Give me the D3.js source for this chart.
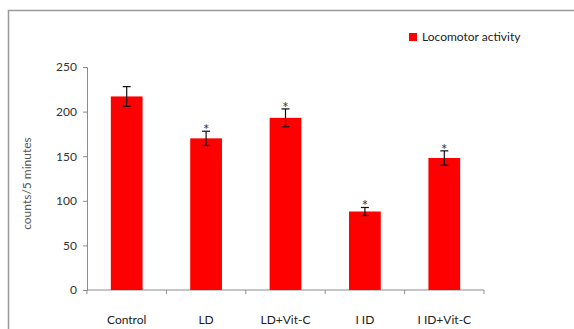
<!DOCTYPE html>
<html>
<head>
<meta charset="utf-8">
<script src="https://cdn.jsdelivr.net/npm/d3@7"></script>
<style>
  html, body { margin: 0; padding: 0; background: #fff; }
  svg { display: block; }
  text { font-family: Lato, "Open Sans", sans-serif; }
</style>
</head>
<body>
<svg id="chart" width="574" height="329"></svg>
<script>
// Locomotor activity per group (counts / 5 minutes), mean ± error
const groups = ["Control", "LD", "LD+Vit-C", "HD", "HD+Vit-C"];
const groupLabels = ["Control", "LD", "LD+Vit-C", "I ID", "I ID+Vit-C"];
const activity = [217, 170, 193, 88, 148];
const errors = [11, 8, 10, 4.5, 8];
const significant = [false, true, true, true, true];
const yTicks = [0, 50, 100, 150, 200, 250];
const seriesName = "Locomotor activity";
const yTitle = "counts/5 minutes";

const svg = d3.select("#chart");
const W = 574, H = 329;
const margin = { left: 87, right: 90, top: 67, bottom: 39 };
const plotW = W - margin.left - margin.right;
const plotH = H - margin.top - margin.bottom;

// outer frame
svg.append("rect")
  .attr("x", 8.5).attr("y", 10.5)
  .attr("width", 600).attr("height", 400)
  .attr("fill", "none").attr("stroke", "#9a9a9a").attr("stroke-width", 1.5);

const g = svg.append("g").attr("transform", `translate(${margin.left},${margin.top})`);

const x = d3.scaleBand().domain(groups).range([0, plotW]).paddingInner(0.6).paddingOuter(0.3);
const xb = d3.scaleBand().domain(groups).range([0, plotW]);
const y = d3.scaleLinear().domain([0, 250]).range([plotH, 0]);

// y axis
const yAxis = g.append("g").call(d3.axisLeft(y).tickValues(yTicks).tickSize(4).tickPadding(6));
yAxis.select(".domain").attr("stroke", "#8c8c8c");
yAxis.selectAll(".tick line").attr("stroke", "#8c8c8c");
yAxis.selectAll(".tick text").attr("font-size", 12).attr("fill", "#333");

// x axis with ticks at category boundaries
const xAxis = g.append("g").attr("transform", `translate(0,${plotH})`);
xAxis.append("line").attr("x1", 0).attr("x2", plotW).attr("stroke", "#8c8c8c");
const bounds = [0].concat(groups.map(d => xb(d) + xb.bandwidth()));
xAxis.selectAll(".bt").data(bounds).join("line")
  .attr("x1", d => d).attr("x2", d => d).attr("y1", 0).attr("y2", 4)
  .attr("stroke", "#8c8c8c");
xAxis.selectAll(".lbl").data(groups).join("text")
  .attr("x", d => xb(d) + xb.bandwidth() / 2)
  .attr("y", 34)
  .attr("text-anchor", "middle")
  .attr("font-size", 12).attr("fill", "#222")
  .text((d, i) => groupLabels[i]);

// bars
g.selectAll(".bar").data(groups).join("rect")
  .attr("x", d => x(d))
  .attr("y", (d, i) => y(activity[i]))
  .attr("width", x.bandwidth())
  .attr("height", (d, i) => plotH - y(activity[i]))
  .attr("fill", "#ff0000");

// error bars
const eb = g.selectAll(".err").data(groups).join("g");
eb.append("line")
  .attr("x1", d => x(d) + x.bandwidth() / 2).attr("x2", d => x(d) + x.bandwidth() / 2)
  .attr("y1", (d, i) => y(activity[i] + errors[i])).attr("y2", (d, i) => y(activity[i] - errors[i]))
  .attr("stroke", "#111").attr("stroke-width", 1.2);
[1, -1].forEach(s => {
  eb.append("line")
    .attr("x1", d => x(d) + x.bandwidth() / 2 - 4).attr("x2", d => x(d) + x.bandwidth() / 2 + 4)
    .attr("y1", (d, i) => y(activity[i] + s * errors[i])).attr("y2", (d, i) => y(activity[i] + s * errors[i]))
    .attr("stroke", "#111").attr("stroke-width", 1.2);
});

// significance markers
g.selectAll(".sig").data(groups).join("text")
  .filter((d, i) => significant[i])
  .attr("x", d => x(d) + x.bandwidth() / 2)
  .attr("y", d => y(activity[groups.indexOf(d)] + errors[groups.indexOf(d)]) + 4)
  .attr("text-anchor", "middle")
  .attr("font-size", 15).attr("fill", "#333")
  .text("*");

// y axis title
svg.append("text")
  .attr("transform", `translate(31,${margin.top + plotH / 2 + 5}) rotate(-90)`)
  .attr("text-anchor", "middle")
  .attr("font-size", 12).attr("fill", "#555")
  .text(yTitle);

// legend
const lg = svg.append("g").attr("transform", "translate(409,33)");
lg.append("rect").attr("width", 8).attr("height", 8).attr("fill", "#ff0000");
lg.append("text").attr("x", 13).attr("y", 8).attr("font-size", 12).attr("fill", "#222").text(seriesName);
</script>
</body>
</html>
